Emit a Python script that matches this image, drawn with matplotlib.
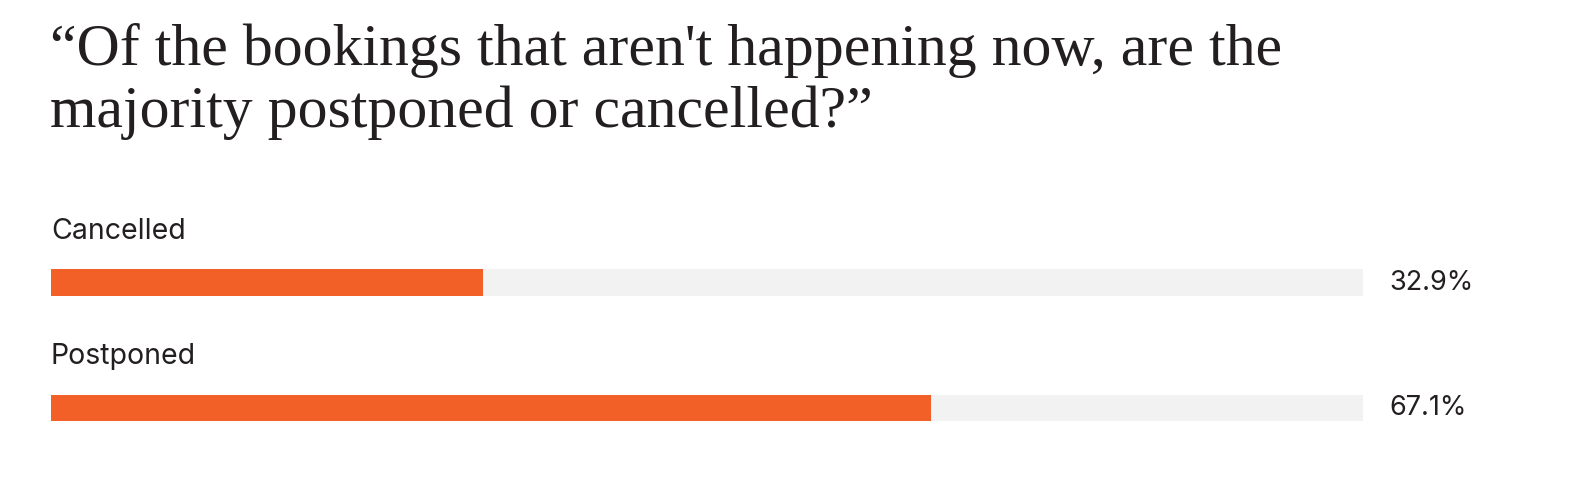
import matplotlib
matplotlib.use('Agg')
import matplotlib.pyplot as plt

W, H, DPI = 1575, 488, 100

TITLE_LINES = ["\u201cOf the bookings that aren't happening now, are the",
               "majority postponed or cancelled?\u201d"]
CATEGORIES = ["Cancelled", "Postponed"]
VALUES = [32.9, 67.1]

ORANGE = "#F26027"
TRACK = "#F2F2F2"
INK = "#231F20"


def px_x(x):
    return x / W


def px_y(y):
    # y measured from the top of the image
    return 1 - y / H


fig = plt.figure(figsize=(W / DPI, H / DPI), dpi=DPI)
fig.patch.set_facecolor("white")

# Title in two lines
for line, base in zip(TITLE_LINES, [65, 127]):
    fig.text(px_x(50), px_y(base), line, family="Liberation Serif",
             fontsize=43, color=INK, va="baseline", ha="left")

# Axes spanning the bar tracks: bar centres at 282.5 px and 408 px
left, right = 51, 1363
top, bottom = 219.75, 470.75
ax = fig.add_axes([px_x(left), px_y(bottom), px_x(right - left),
                   (bottom - top) / H])
ax.set_xlim(0, 100)
ax.set_ylim(1.5, -0.5)
ax.axis("off")

ypos = list(range(len(CATEGORIES)))
bar_h = 0.215
ax.barh(ypos, [100] * len(VALUES), height=bar_h, color=TRACK, linewidth=0)
ax.barh(ypos, VALUES, height=bar_h, color=ORANGE, linewidth=0)

for y, cat, val in zip(ypos, CATEGORIES, VALUES):
    ax.text(0, y - 0.347, cat, family="Inter", fontweight="normal",
            fontsize=20.5, color=INK, va="baseline", ha="left")
    ax.annotate(f"{val:.1f}%", xy=(100, y), xytext=(19, 0),
                textcoords="offset points", family="Inter",
                fontweight="normal", fontsize=19.5, color=INK,
                va="center", ha="left")

fig.savefig("out.png", dpi=DPI)
plt.close(fig)
